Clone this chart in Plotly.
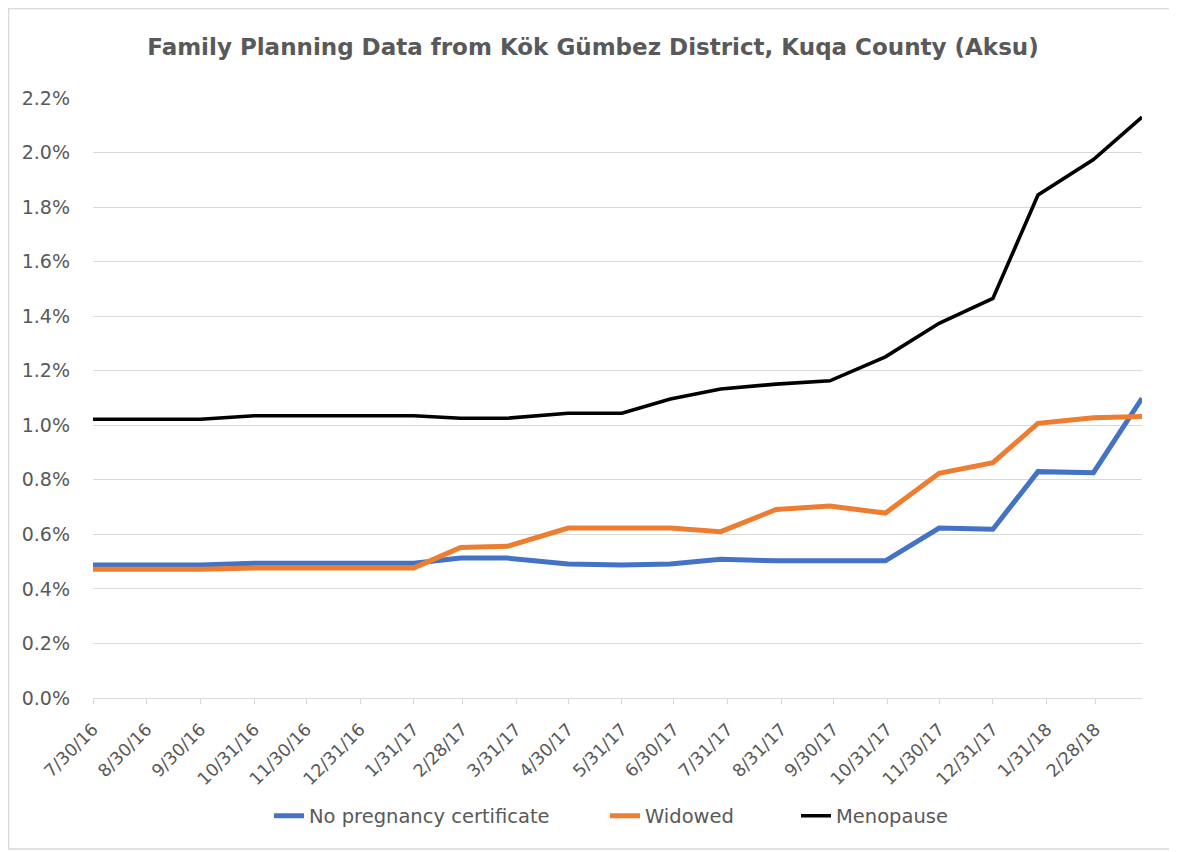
import plotly.graph_objects as go

# ---- data ----
dates = ["2016-07-30", "2016-08-30", "2016-09-30", "2016-10-31", "2016-11-30",
         "2016-12-31", "2017-01-31", "2017-02-27", "2017-03-26", "2017-04-30",
         "2017-05-31", "2017-06-28", "2017-07-27", "2017-08-28", "2017-09-28",
         "2017-10-30", "2017-11-30", "2017-12-31", "2018-01-26", "2018-02-27",
         "2018-03-27"]

no_pregnancy_cert = [0.488, 0.488, 0.488, 0.494, 0.494, 0.494, 0.494, 0.513, 0.513, 0.491,
                     0.488, 0.491, 0.509, 0.503, 0.503, 0.503, 0.623, 0.619, 0.830, 0.826,
                     1.099]
widowed = [0.472, 0.472, 0.472, 0.477, 0.477, 0.477, 0.477, 0.552, 0.556, 0.623,
           0.623, 0.623, 0.610, 0.691, 0.704, 0.678, 0.824, 0.863, 1.007, 1.028,
           1.032]
menopause = [1.022, 1.022, 1.022, 1.035, 1.035, 1.035, 1.035, 1.026, 1.026, 1.044,
             1.044, 1.096, 1.133, 1.151, 1.163, 1.251, 1.374, 1.465, 1.844, 1.974,
             2.130]

tick_dates = ["2016-07-30", "2016-08-30", "2016-09-30", "2016-10-31", "2016-11-30",
              "2016-12-31", "2017-01-31", "2017-02-28", "2017-03-31", "2017-04-30",
              "2017-05-31", "2017-06-30", "2017-07-31", "2017-08-31", "2017-09-30",
              "2017-10-31", "2017-11-30", "2017-12-31", "2018-01-31", "2018-02-28"]
tick_labels = ["7/30/16", "8/30/16", "9/30/16", "10/31/16", "11/30/16", "12/31/16",
               "1/31/17", "2/28/17", "3/31/17", "4/30/17", "5/31/17", "6/30/17",
               "7/31/17", "8/31/17", "9/30/17", "10/31/17", "11/30/17", "12/31/17",
               "1/31/18", "2/28/18"]
y_ticks = [0.0, 0.2, 0.4, 0.6, 0.8, 1.0, 1.2, 1.4, 1.6, 1.8, 2.0, 2.2]
y_tick_text = [f"{v:.1f}%" for v in y_ticks]

title = "Family Planning Data from Kök Gümbez District, Kuqa County (Aksu)"
series = [
    ("No pregnancy certificate", no_pregnancy_cert, "#4472C4", 5, "legend"),
    ("Widowed", widowed, "#ED7D31", 5, "legend2"),
    ("Menopause", menopause, "#000000", 3.6, "legend3"),
]

W, H = 1177, 852
OFF = 8  # page body margin offset of the rendered div
FONT = "DejaVu Sans"
GREY = "#595959"
GRID = "#d9d9d9"

fig = go.Figure()
for name, vals, color, width, lg in series:
    fig.add_trace(go.Scatter(x=dates, y=vals, mode="lines", name=name,
                             line=dict(color=color, width=width), legend=lg))

# plot area in reference page coords: x 93..1142, y 98..698
ml = 93 - OFF
mt = 98 - OFF
mr = W - (1142 - OFF)
mb = H - (698 - OFF)

def legend_cfg(text_x):
    return dict(orientation="h", xref="container", yref="container",
                x=(text_x - OFF - 40) / W, xanchor="left",
                y=1 - (816 - OFF) / H, yanchor="middle",
                font=dict(family=FONT, size=19.5, color=GREY),
                bgcolor="rgba(0,0,0,0)", borderwidth=0)

fig.update_layout(
    width=W, height=H,
    margin=dict(l=ml, r=mr, t=mt, b=mb, autoexpand=False),
    paper_bgcolor="white", plot_bgcolor="white",
    title=dict(text=title, x=(593 - OFF) / W, xanchor="center", xref="container",
               y=1 - (47 - OFF) / H, yanchor="middle", yref="container",
               font=dict(family=FONT, size=23, color=GREY, weight="bold")),
    showlegend=True,
    legend=legend_cfg(309),
    legend2=legend_cfg(645),
    legend3=legend_cfg(836),
    xaxis=dict(type="date", range=[dates[0], dates[-1]],
               tickmode="array", tickvals=tick_dates, ticktext=tick_labels,
               tickangle=-45, ticks="outside", ticklen=5, tickcolor=GRID, tickwidth=1.3,
               showline=True, linecolor=GRID, linewidth=1.3,
               showgrid=False, zeroline=False, ticklabelstandoff=8,
               tickfont=dict(family=FONT, size=17.5, color=GREY)),
    yaxis=dict(range=[0, 2.2], tickmode="array", tickvals=y_ticks, ticktext=y_tick_text,
               showgrid=True, gridcolor=GRID, gridwidth=1.3,
               zeroline=False, showline=False, ticks="",
               ticklabelstandoff=22,
               tickfont=dict(family=FONT, size=19, color=GREY)),
)

# chart-area border (Excel style)
pw = W - ml - mr
ph = H - mt - mb
bx0, bx1 = max(4 - OFF, 0.7), 1172 - OFF
by0, by1 = max(5 - OFF, 0.7), 849 - OFF
fig.add_shape(type="rect", xref="paper", yref="paper",
              x0=(bx0 - ml) / pw, x1=(bx1 - ml) / pw,
              y0=(H - mb - by1) / ph, y1=(H - mb - by0) / ph,
              line=dict(color=GRID, width=1.3), fillcolor="rgba(0,0,0,0)", layer="below")

fig.write_html("out.html")
